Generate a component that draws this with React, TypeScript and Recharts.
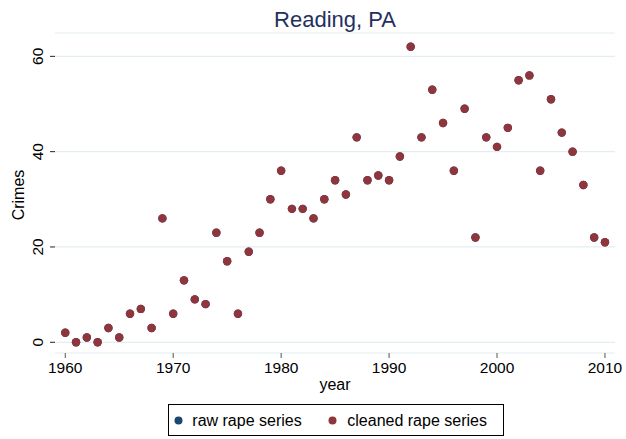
import React from 'react';
import { ScatterChart, Scatter, XAxis, YAxis, CartesianGrid } from 'recharts';

const years = [
  1960, 1961, 1962, 1963, 1964, 1965, 1966, 1967, 1968, 1969,
  1970, 1971, 1972, 1973, 1974, 1975, 1976, 1977, 1978, 1979,
  1980, 1981, 1982, 1983, 1984, 1985, 1986, 1987, 1988, 1989,
  1990, 1991, 1992, 1993, 1994, 1995, 1996, 1997, 1998, 1999,
  2000, 2001, 2002, 2003, 2004, 2005, 2006, 2007, 2008, 2009, 2010,
];

const rawRape = [
  2, 0, 1, 0, 3, 1, 6, 7, 3, 26,
  6, 13, 9, 8, 23, 17, 6, 19, 23, 30,
  36, 28, 28, 26, 30, 34, 31, 43, 34, 35,
  34, 39, 62, 43, 53, 46, 36, 49, 22, 43,
  41, 45, 55, 56, 36, 51, 44, 40, 33, 22, 21,
];

const cleanedRape = [
  2, 0, 1, 0, 3, 1, 6, 7, 3, 26,
  6, 13, 9, 8, 23, 17, 6, 19, 23, 30,
  36, 28, 28, 26, 30, 34, 31, 43, 34, 35,
  34, 39, 62, 43, 53, 46, 36, 49, 22, 43,
  41, 45, 55, 56, 36, 51, 44, 40, 33, 22, 21,
];

const xTicks = [1960, 1970, 1980, 1990, 2000, 2010];
const yTicks = [0, 20, 40, 60];

const seriesNames = ['raw rape series', 'cleaned rape series'];
const seriesColors = ['#1a476f', '#90353b'];

const rawData = years.map((y, i) => ({ year: y, crimes: rawRape[i] }));
const cleanedData = years.map((y, i) => ({ year: y, crimes: cleanedRape[i] }));

const FONT = '"Liberation Sans", Arial, Helvetica, sans-serif';

const W = 626;
const H = 439;

const makeDot = (color: string) => (props: any) => (
  <circle cx={props.cx} cy={props.cy} r={4.2} fill={color} />
);

const YTick = (props: any) => {
  const { x, y, payload } = props;
  return (
    <g transform={`translate(${x - 5},${y})`}>
      <text
        transform="rotate(-90)"
        textAnchor="middle"
        x={0}
        y={0}
        fontSize={15.5}
        fontFamily={FONT}
        fill="#000"
      >
        {payload.value}
      </text>
    </g>
  );
};

export default function App() {
  return (
    <div style={{ position: 'absolute', left: 0, top: 0, width: W, height: H, background: '#fff' }}>
      <ScatterChart
        width={W}
        height={H}
        margin={{ top: 33, right: 11, bottom: 56, left: 0 }}
        style={{ fontFamily: FONT }}
      >
        <CartesianGrid
          vertical={false}
          horizontal={true}
          stroke="#e4eef1"
          strokeWidth={1.2}
        />
        <XAxis
          type="number"
          dataKey="year"
          domain={[1959.05, 2010.93]}
          ticks={xTicks}
          allowDataOverflow
          axisLine={false}
          tickLine={{ stroke: '#555' }}
          tickSize={5}
          tickMargin={4}
          height={30}
          tick={{ fontSize: 15.5, fill: '#000', fontFamily: FONT }}
          interval={0}
        />
        <YAxis
          type="number"
          dataKey="crimes"
          domain={[-2.25, 64.9]}
          ticks={yTicks}
          allowDataOverflow
          axisLine={false}
          tickLine={{ stroke: '#222' }}
          tickSize={5}
          tickMargin={2}
          width={55}
          tick={<YTick />}
          interval={0}
        />
        <Scatter
          name={seriesNames[0]}
          data={rawData}
          fill={seriesColors[0]}
          shape={makeDot(seriesColors[0])}
          isAnimationActive={false}
        />
        <Scatter
          name={seriesNames[1]}
          data={cleanedData}
          fill={seriesColors[1]}
          shape={makeDot(seriesColors[1])}
          isAnimationActive={false}
        />
      </ScatterChart>
      <svg
        width={W}
        height={H}
        style={{ position: 'absolute', left: 0, top: 0, pointerEvents: 'none' }}
      >
        <text x={335} y={27.3} textAnchor="middle" fontSize={22} fontFamily={FONT} fill="#1f3160">
          Reading, PA
        </text>
        <text
          transform="translate(24,195) rotate(-90)"
          textAnchor="middle"
          fontSize={16}
          fontFamily={FONT}
          fill="#000"
        >
          Crimes
        </text>
        <text x={335} y={390} textAnchor="middle" fontSize={16} fontFamily={FONT} fill="#000">
          year
        </text>
        <rect x={168.5} y={404.5} width={335} height={31} fill="#fff" stroke="#000" strokeWidth={1} />
        <circle cx={178.5} cy={420.5} r={4} fill={seriesColors[0]} />
        <text x={192.3} y={426} fontSize={16} fontFamily={FONT} fill="#000">
          {seriesNames[0]}
        </text>
        <circle cx={332.5} cy={420.5} r={4} fill={seriesColors[1]} />
        <text x={347.3} y={426} fontSize={16} fontFamily={FONT} fill="#000">
          {seriesNames[1]}
        </text>
      </svg>
    </div>
  );
}
